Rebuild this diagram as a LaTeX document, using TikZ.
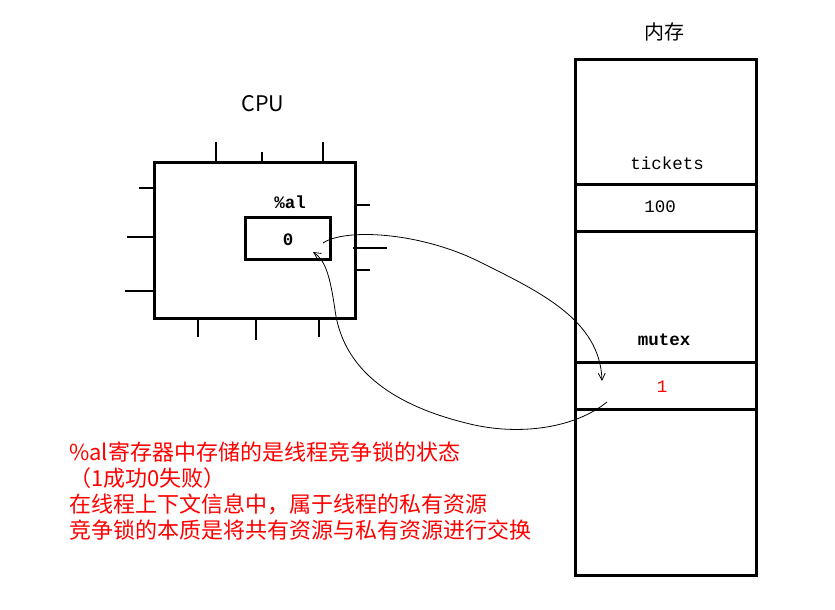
\documentclass[tikz,border=0pt]{standalone}
\usepackage{fontspec}
\setmainfont{Liberation Serif}
\newfontfamily\cjk{Noto Sans CJK SC}
\newfontfamily\monof{Liberation Mono}
\usetikzlibrary{arrows.meta}
\begin{document}
\begin{tikzpicture}[x=1pt,y=-1pt,
  box/.style={draw,line width=3pt,rectangle,inner sep=0pt,outer sep=0pt},
  pin/.style={line width=1.1pt},
  wire/.style={line width=0.8pt,-{Straight Barb[length=7pt,width=7pt,line width=0.8pt]}},
  mono/.style={font=\monof\fontsize{17.5}{20}\selectfont},
  monob/.style={font=\monof\bfseries\fontsize{17.5}{20}\selectfont},
  note/.style={font=\cjk\fontsize{22}{26}\selectfont,text=red,anchor=west,inner sep=0pt}]
\useasboundingbox (0,0) rectangle (835,610);
% CPU
\node[font=\cjk\fontsize{21.5}{24}\selectfont] (cpulbl) at (263,104) {CPU};
\node[box,minimum width=201pt,minimum height=156pt] (cpu) at (254.5,240) {};
\node[box,minimum width=85pt,minimum height=42pt] (reg) at (287.5,238) {};
\node[monob] (reglbl) at (290,202) {\%al};
\node[monob] (regval) at (288,240) {0};
% pins
\draw[pin] (216,142) -- (216,162);
\draw[pin] (262,152) -- (262,162);
\draw[pin] (323,142) -- (323,162);
\draw[pin] (139,188) -- (154,188);
\draw[pin] (127,237) -- (154,237);
\draw[pin] (125,291) -- (154,291);
\draw[pin] (355,205) -- (370,205);
\draw[pin] (353,248) -- (387,248);
\draw[pin] (355,270) -- (370,270);
\draw[pin] (198,318) -- (198,337);
\draw[pin] (256,318) -- (256,340);
\draw[pin] (319,318) -- (319,337);
% memory
\node[font=\cjk\fontsize{20}{22}\selectfont] (memlbl) at (664,32) {内存};
\node[box,minimum width=181pt,minimum height=515pt] (mem) at (665.5,317.5) {};
\node[box,minimum width=181pt,minimum height=47pt] (tcell) at (665.5,207.5) {};
\node[box,minimum width=181pt,minimum height=47pt] (mcell) at (665.5,385.5) {};
\node[mono] (tlbl) at (667,163) {tickets};
\node[mono] (tval) at (660,207) {100};
\node[monob] (mlbl) at (664,340) {mutex};
\node[mono,text=red] (mval) at (662,387) {1};
% connectors
\coordinate (s1) at (323,243);
\coordinate (e1) at (602,381);
\coordinate (s2) at (607,402);
\coordinate (e2) at (313,252);
\draw[wire] (s1) .. controls (345,228) and (420,232) .. (480,262)
  .. controls (540,292) and (600,320) .. (e1);
\draw[wire] (s2) .. controls (575,428) and (520,436) .. (470,424)
  .. controls (420,412) and (345,385) .. (335,310)
  .. controls (330,275) and (325,260) .. (e2);
% notes
\node[note] (n1) at (69,452) {\%al寄存器中存储的是线程竞争锁的状态};
\node[note] (n2) at (69,478) {（1成功0失败）};
\node[note] (n3) at (69,504) {在线程上下文信息中，属于线程的私有资源};
\node[note] (n4) at (69,530) {竞争锁的本质是将共有资源与私有资源进行交换};
\end{tikzpicture}
\end{document}
